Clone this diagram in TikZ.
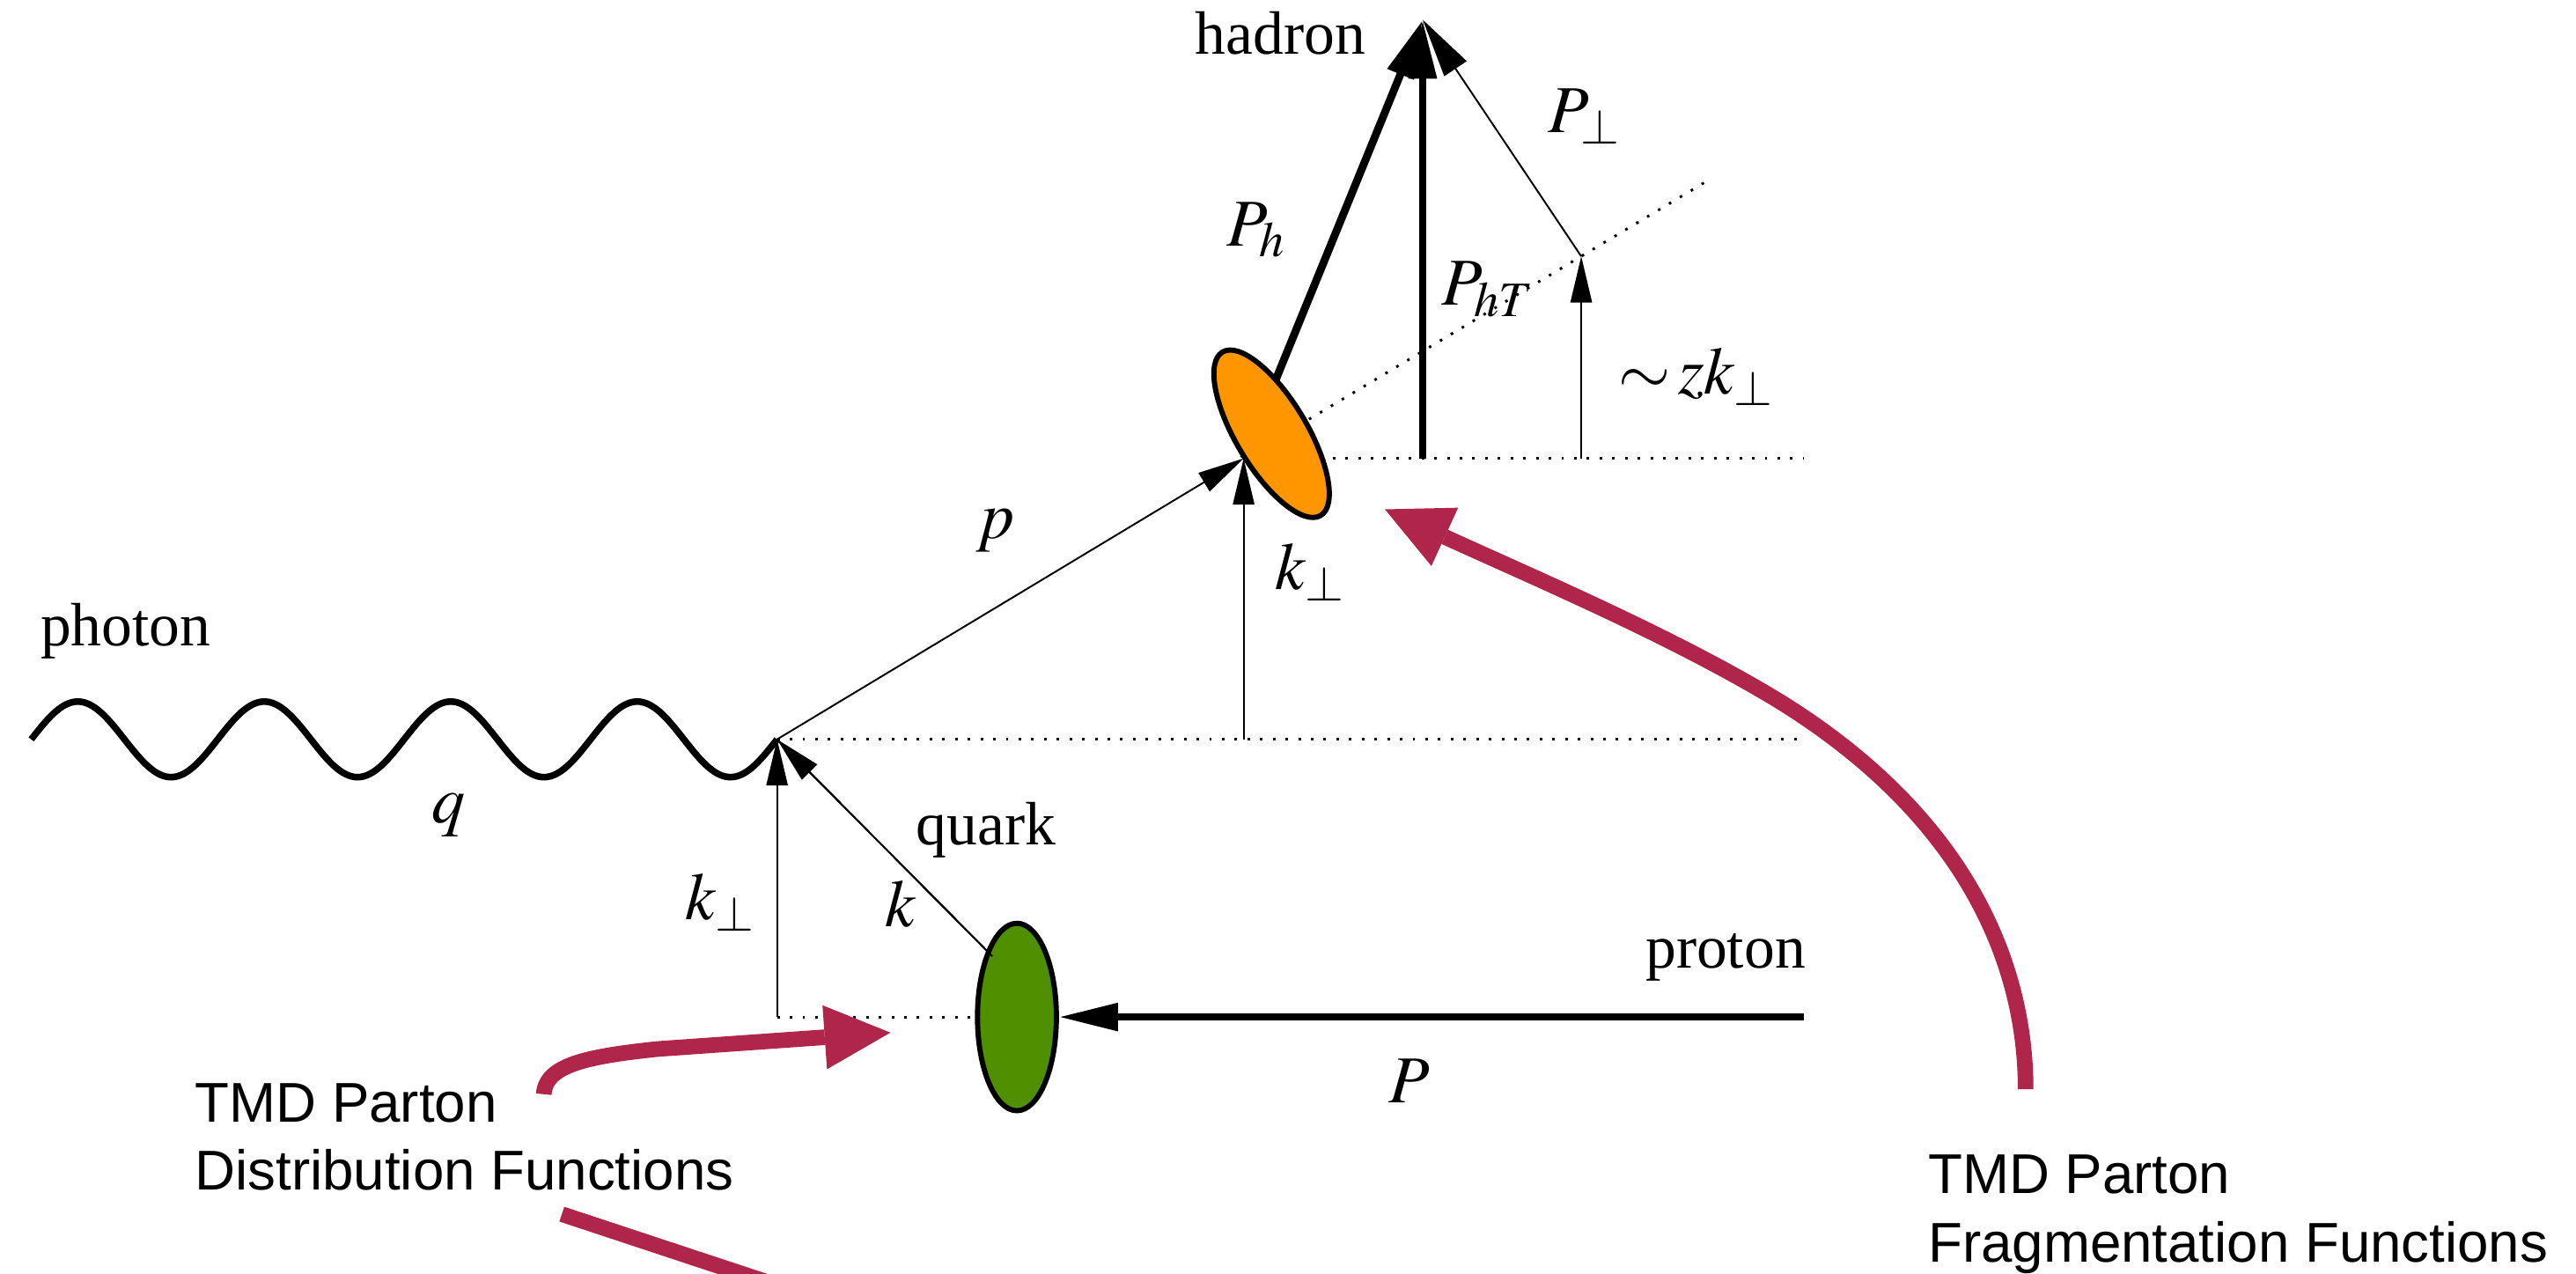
\documentclass[tikz,border=0pt]{standalone}
\usepackage{mathptmx}
\usepackage{fontspec}
\setmainfont{Liberation Serif}
\newfontfamily\sansf{Liberation Sans}
\usetikzlibrary{arrows.meta,shapes.geometric}
\definecolor{orangeF}{RGB}{255,150,0}
\definecolor{greenF}{RGB}{79,143,0}
\definecolor{crim}{RGB}{176,38,74}
\begin{document}
\begin{tikzpicture}[x=0.01cm,y=-0.01cm,
  thinarr/.style={line width=0.3pt,-{Triangle[length=8pt,width=3.7pt]}},
  thickarr/.style={line width=1.35pt,-{Triangle[length=10.2pt,width=4.6pt]}},
  perparr/.style={line width=0.3pt,-{Triangle[length=10.2pt,width=4.6pt]}},
  dotln/.style={line width=0.45pt,dash pattern=on 0.45pt off 1.75pt},
  redarr/.style={crim,line width=2.7pt,-{Triangle[length=11.4pt,width=11.1pt,line width=0pt]}},
  redln/.style={crim,line width=2.7pt},
  txt/.style={font=\fontsize{10.6}{12}\selectfont,inner sep=0pt,anchor=base west},
  mth/.style={font=\fontsize{11.6}{14}\selectfont,inner sep=0pt},
  sanslbl/.style={font=\sansf\fontsize{9.7}{11.8}\selectfont,inner sep=0pt,anchor=base west,align=left},
  blob/.style={ellipse,draw,line width=0.9pt,inner sep=0pt}
]
\useasboundingbox (0,0) rectangle (1568,775);
\clip (0,0) rectangle (1568,775);

% coordinates
\coordinate (A) at (473,450);
\coordinate (C) at (757,279);
\coordinate (H) at (866,12);
\coordinate (Z) at (962.5,156);
\coordinate (ze) at (962.5,279);
\coordinate (phT) at (866,279);
\coordinate (kt) at (757,450);
\coordinate (kb) at (473,619);
\coordinate (kS) at (604,582);
\coordinate (d1) at (1098,450);
\coordinate (d2) at (1098,279);
\coordinate (d3) at (1041,109);
\coordinate (prS) at (1098,619);

% dotted guide lines
\draw[dotln] (A) -- (d1);
\draw[dotln] (C) -- (d2);
\draw[dotln] (C) -- (d3);
\draw[dotln] (kb) -- (619,619);

% photon
\draw[line width=1.15pt,line join=round] plot[domain=19:473,samples=300] (\x,{450-23*sin(3.17181*(\x-19))});

% lines hidden partly by blobs
\draw[thickarr] (C) -- (H);
\draw[line width=0.3pt] (kS) -- (A);

% blobs
\node[blob,fill=orangeF,minimum width=0.43cm,minimum height=1.16cm,rotate=31] (frag) at (774,264) {};
\node[blob,fill=greenF,minimum width=0.48cm,minimum height=1.14cm] (pdfblob) at (619,619) {};

% arrows
\draw[thinarr] (kS) -- (A);
\draw[thinarr] (kb) -- (A);
\draw[thinarr] (A) -- (C);
\draw[thinarr] (kt) -- (C);
\draw[thinarr] (ze) -- (Z);
\draw[perparr] (Z) -- (H);
\draw[thickarr] (phT) -- (H);
\draw[line width=1.2pt,-{Triangle[length=10.2pt,width=4.6pt]}] (prS) -- (pdfblob.east);

% text labels
\node[txt] (hadron) at (727,33) {hadron};
\node[txt] (photon) at (24,393) {photon};
\node[txt] (quark) at (557,514) {quark};
\node[txt] (proton) at (1001,589) {proton};

% math labels
\node[mth] (lq) at (273,496) {$q$};
\node[mth] (lp) at (606,323) {$p$};
\node[mth] (lk) at (548,550) {$k$};
\node[mth] (lkp1) at (439,549) {$k_\perp$};
\node[mth] (lkp2) at (798,348) {$k_\perp$};
\node[mth] (lPh) at (765,140) {$P_h$};
\node[mth] (lPhT) at (906,176) {$P_{hT}$};
\node[mth] (lPp) at (965,71) {$P_\perp$};
\node[mth] (lzk) at (1033,229) {${\sim}\,zk_\perp$};
\node[mth] (lP) at (858,658) {$P$};

% annotations (base = last line's baseline)
\node[sanslbl] (pdf) at (118,724.5) {TMD Parton\\Distribution Functions};
\node[sanslbl] (ff) at (1173,768) {TMD Parton\\Fragmentation Functions};

\coordinate (pdfS) at (331,666);
\coordinate (pdfT) at (542,628.5);
\coordinate (pdf2S) at (342,739);
\coordinate (pdf2E) at (475,783);
\coordinate (ffS) at (1233,663);
\coordinate (ffT) at (843,310);
\draw[redarr] (pdfS) .. controls (332,648) and (358,643) .. (400,638.5) -- (pdfT);
\draw[redln] (pdf2S) -- (pdf2E);
\draw[redarr] (ffS) .. controls (1233,590) and (1200,500) .. (1085,428) .. controls (1020,388) and (930,350) .. (ffT);
\end{tikzpicture}
\end{document}
